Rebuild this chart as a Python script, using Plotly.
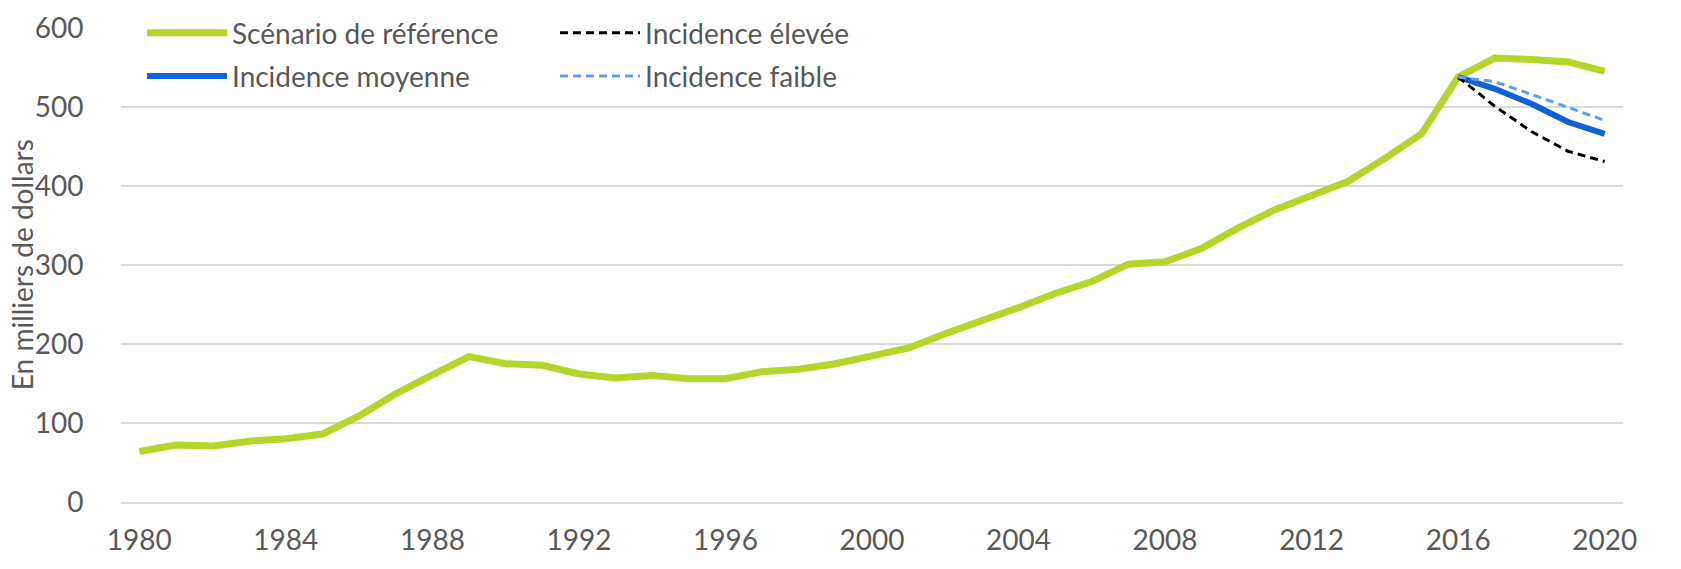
import plotly.graph_objects as go

years = list(range(1980, 2021))

# Scénario de référence, 1980-2020
reference = [
    64, 72, 71, 77, 80, 86, 109, 137, 161, 184,
    175, 173, 162, 157, 160, 156, 156, 165, 168, 175,
    185, 195, 213, 229, 246, 264, 279, 301, 304, 321,
    347, 370, 389, 406, 435, 466, 538, 562, 560, 557,
    545,
]

# scenarios start in 2016
scen_years = [2016, 2017, 2018, 2019, 2020]
high_impact = [538, 501, 469, 444, 431]
mid_impact = [538, 523, 504, 481, 466]
low_impact = [538, 532, 516, 499, 483]

tick_years = list(range(1980, 2021, 4))

FONT = "Lato"
TEXT = "#595959"
GRID = "#d9d9d9"
FS = 28
CLEAR = "rgba(0,0,0,0)"

fig = go.Figure()

fig.add_trace(go.Scatter(
    x=years, y=reference, mode="lines", name="Scénario de référence",
    line=dict(color="#b4d62a", width=7), legend="legend", legendgroup="a",
))
fig.add_trace(go.Scatter(
    x=scen_years, y=mid_impact, mode="lines", name="Incidence moyenne",
    line=dict(color="#1062d6", width=6), legend="legend", legendgroup="b",
))
fig.add_trace(go.Scatter(
    x=scen_years, y=high_impact, mode="lines", name="Incidence élevée",
    line=dict(color="#000000", width=3, dash="8px,5px"),
    legend="legend2", legendgroup="c",
))
fig.add_trace(go.Scatter(
    x=scen_years, y=low_impact, mode="lines", name="Incidence faible",
    line=dict(color="#5e9ef0", width=3, dash="8px,5px"),
    legend="legend2", legendgroup="d",
))

legend_common = dict(
    orientation="v",
    bgcolor="white",
    font=dict(family=FONT, size=FS, color=TEXT),
    itemwidth=80,
    tracegroupgap=4,
    yref="container",
    yanchor="top",
    xref="container",
    xanchor="left",
    y=1.0,
    traceorder="grouped",
)

# the page adds an 8px body margin, so the margins are shifted by 8px
fig.update_layout(
    width=1681,
    height=569,
    paper_bgcolor="white",
    plot_bgcolor="white",
    margin=dict(l=113, r=66, t=20, b=75, autoexpand=False),
    font=dict(family=FONT, size=FS, color=TEXT),
    showlegend=True,
    legend=dict(legend_common, x=134 / 1681),
    legend2=dict(legend_common, x=547 / 1681),
    xaxis=dict(
        range=[1979.5, 2020.5],
        tickvals=tick_years,
        showgrid=False,
        showline=True,
        linecolor=GRID,
        linewidth=2,
        ticks="outside",
        ticklen=12,
        tickcolor=CLEAR,
        tickfont=dict(family=FONT, size=FS, color=TEXT),
        zeroline=False,
    ),
    yaxis=dict(
        range=[0, 600],
        dtick=100,
        showgrid=True,
        gridcolor=GRID,
        gridwidth=2,
        zeroline=False,
        ticks="outside",
        ticklen=31,
        tickcolor=CLEAR,
        tickfont=dict(family=FONT, size=FS, color=TEXT),
    ),
    annotations=[
        dict(text="En milliers de dollars", textangle=-90,
             xref="paper", yref="paper", x=-0.0658, y=0.5,
             xanchor="center", yanchor="middle", showarrow=False,
             font=dict(family=FONT, size=FS, color=TEXT)),
    ],
    shapes=[
        dict(type="rect", xref="paper", yref="y", x0=0, x1=0.55,
             y0=590, y1=610, fillcolor="white", line=dict(width=0),
             layer="between"),
    ],
)

fig.write_html("out.html")
